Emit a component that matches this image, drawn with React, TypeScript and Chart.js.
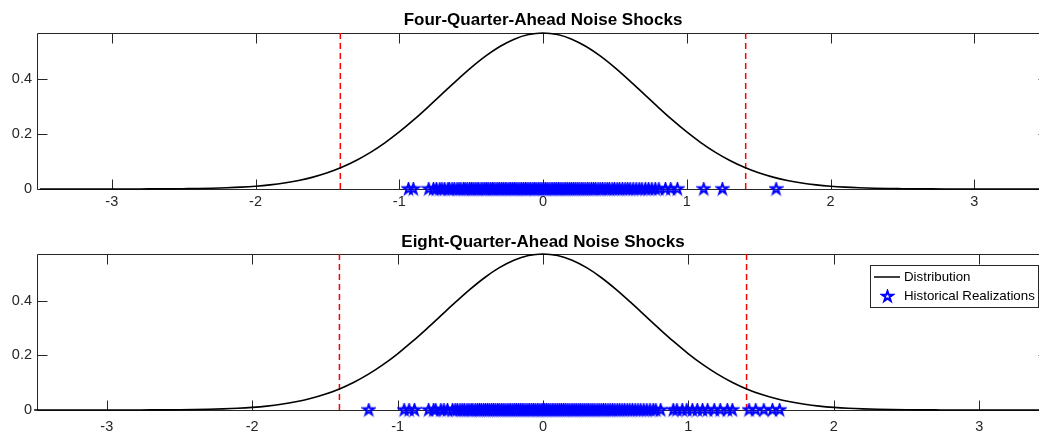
import React, { useEffect, useRef } from 'react';
import { Chart, registerables } from 'chart.js';

Chart.register(...registerables);

// ---------- data ----------
const curveX = [
  -3.5, -3.4, -3.3, -3.2, -3.1, -3.0, -2.9, -2.8, -2.7, -2.6, -2.5, -2.4, -2.3, -2.2, -2.1, -2.0,
  -1.9, -1.8, -1.7, -1.6, -1.5, -1.4, -1.3, -1.2, -1.1, -1.0, -0.9, -0.8, -0.7, -0.6, -0.5, -0.4,
  -0.3, -0.2, -0.1, 0.0, 0.1, 0.2, 0.3, 0.4, 0.5, 0.6, 0.7, 0.8, 0.9, 1.0, 1.1, 1.2, 1.3, 1.4, 1.5,
  1.6, 1.7, 1.8, 1.9, 2.0, 2.1, 2.2, 2.3, 2.4, 2.5, 2.6, 2.7, 2.8, 2.9, 3.0, 3.1, 3.2, 3.3, 3.4, 3.5,
];

const topDensity = [
  0, 0, 0, 0, 0, 0.0001, 0.0001, 0.0002, 0.0004, 0.0006, 0.0011, 0.0017, 0.0028, 0.0044, 0.0067, 0.0101,
  0.0150, 0.0217, 0.0309, 0.0431, 0.0588, 0.0788, 0.1034, 0.1329, 0.1675, 0.2069, 0.2505, 0.2973, 0.3457, 0.3940, 0.4401, 0.4818,
  0.5169, 0.5436, 0.5602, 0.5659, 0.5602, 0.5436, 0.5169, 0.4818, 0.4401, 0.3940, 0.3457, 0.2973, 0.2505, 0.2069, 0.1675, 0.1329, 0.1034, 0.0788, 0.0588,
  0.0431, 0.0309, 0.0217, 0.0150, 0.0101, 0.0067, 0.0044, 0.0028, 0.0017, 0.0011, 0.0006, 0.0004, 0.0002, 0.0001, 0.0001, 0, 0, 0, 0, 0,
];

const bottomDensity = [
  0, 0, 0, 0, 0, 0.0001, 0.0001, 0.0002, 0.0003, 0.0006, 0.0010, 0.0016, 0.0026, 0.0041, 0.0063, 0.0096,
  0.0143, 0.0209, 0.0299, 0.0418, 0.0574, 0.0771, 0.1016, 0.1311, 0.1658, 0.2054, 0.2494, 0.2966, 0.3457, 0.3947, 0.4416, 0.4841,
  0.5199, 0.5471, 0.5641, 0.5699, 0.5641, 0.5471, 0.5199, 0.4841, 0.4416, 0.3947, 0.3457, 0.2966, 0.2494, 0.2054, 0.1658, 0.1311, 0.1016, 0.0771, 0.0574,
  0.0418, 0.0299, 0.0209, 0.0143, 0.0096, 0.0063, 0.0041, 0.0026, 0.0016, 0.0010, 0.0006, 0.0003, 0.0002, 0.0001, 0.0001, 0, 0, 0, 0, 0,
];

const topRealizations = [
  -0.936, -0.902, -0.795, -0.762, -0.741, -0.718, -0.703, -0.684, -0.661, -0.652, -0.633, -0.617, -0.598,
  -0.584, -0.571, -0.553, -0.542, -0.527, -0.511, -0.498, -0.486, -0.472, -0.459, -0.447, -0.431, -0.418,
  -0.405, -0.393, -0.381, -0.366, -0.352, -0.341, -0.327, -0.314, -0.302, -0.288, -0.276, -0.263, -0.251,
  -0.237, -0.226, -0.212, -0.199, -0.187, -0.174, -0.161, -0.149, -0.136, -0.122, -0.111, -0.098, -0.086,
  -0.071, -0.059, -0.047, -0.033, -0.021, -0.008, 0.004, 0.017, 0.029, 0.042, 0.056, 0.068, 0.081, 0.093,
  0.107, 0.119, 0.132, 0.146, 0.158, 0.171, 0.185, 0.197, 0.211, 0.224, 0.238, 0.251, 0.266, 0.279, 0.293,
  0.308, 0.321, 0.337, 0.352, 0.366, 0.383, 0.398, 0.414, 0.431, 0.447, 0.462, 0.481, 0.497, 0.516, 0.533,
  0.552, 0.571, 0.589, 0.606, 0.627, 0.648, 0.669, 0.688, 0.712, 0.734, 0.757, 0.781, 0.806, 0.852, 0.889,
  0.935, 1.118, 1.248, 1.622,
];

const bottomRealizations = [
  -1.198, -0.955, -0.921, -0.884, -0.787, -0.752, -0.738, -0.702, -0.681, -0.657, -0.622, -0.604, -0.589,
  -0.571, -0.556, -0.541, -0.523, -0.509, -0.494, -0.482, -0.466, -0.451, -0.437, -0.424, -0.409, -0.396,
  -0.382, -0.369, -0.354, -0.341, -0.328, -0.313, -0.301, -0.287, -0.274, -0.261, -0.247, -0.234, -0.222,
  -0.208, -0.195, -0.183, -0.169, -0.156, -0.143, -0.131, -0.117, -0.104, -0.092, -0.078, -0.066, -0.053,
  -0.039, -0.027, -0.014, -0.002, 0.011, 0.024, 0.036, 0.049, 0.063, 0.075, 0.088, 0.101, 0.114, 0.127,
  0.141, 0.153, 0.166, 0.179, 0.193, 0.206, 0.219, 0.232, 0.246, 0.259, 0.273, 0.287, 0.301, 0.314, 0.329,
  0.343, 0.357, 0.372, 0.386, 0.401, 0.416, 0.431, 0.447, 0.462, 0.478, 0.494, 0.511, 0.527, 0.544, 0.561,
  0.579, 0.597, 0.615, 0.634, 0.653, 0.672, 0.693, 0.714, 0.736, 0.758, 0.776, 0.809, 0.896, 0.921, 0.958,
  0.989, 1.027, 1.061, 1.097, 1.132, 1.178, 1.219, 1.268, 1.302, 1.417, 1.463, 1.519, 1.578, 1.627,
];

const topBounds = [-1.41, 1.41];
const bottomBounds = [-1.4, 1.4];
const topXLimits = [-3.52, 3.52];
const bottomXLimits = [-3.48, 3.48];
const topYMax = 0.5659;
const bottomYMax = 0.5699;

const xTickValues = [-3, -2, -1, 0, 1, 2, 3];
const xTickLabels = ['-3', '-2', '-1', '0', '1', '2', '3'];
const yTickValues = [0, 0.2, 0.4];
const yTickLabels = ['0', '0.2', '0.4'];

const panelTitles = ['Four-Quarter-Ahead Noise Shocks', 'Eight-Quarter-Ahead Noise Shocks'];
const legendLabels = ['Distribution', 'Historical Realizations'];

// ---------- styling ----------
const FONT = '"Liberation Sans", Arial, Helvetica, sans-serif';
const AXIS_COLOR = '#262626';
const CANVAS_W = 1049;
const CANVAS_H = 216;

function makeStar(color: string, R: number, lw: number): HTMLCanvasElement {
  const size = Math.ceil(R * 2 + 4);
  const c = document.createElement('canvas');
  c.width = size;
  c.height = size;
  const g = c.getContext('2d')!;
  const cx = size / 2;
  const cy = size / 2;
  const r = R * 0.382;
  g.beginPath();
  for (let i = 0; i < 10; i++) {
    const ang = -Math.PI / 2 + (i * Math.PI) / 5;
    const rr = i % 2 === 0 ? R : r;
    const px = cx + rr * Math.cos(ang);
    const py = cy + rr * Math.sin(ang);
    if (i === 0) g.moveTo(px, py);
    else g.lineTo(px, py);
  }
  g.closePath();
  g.strokeStyle = color;
  g.lineWidth = lw;
  g.lineJoin = 'miter';
  g.stroke();
  return c;
}

const matlabAxesPlugin = {
  id: 'matlabAxes',
  beforeDatasetsDraw(chart: any) {
    const { ctx, chartArea: a, scales } = chart;
    const x = scales.x;
    const y = scales.y;
    ctx.save();
    ctx.strokeStyle = AXIS_COLOR;
    ctx.lineWidth = 1;
    ctx.beginPath();
    const L = Math.round(a.left) + 0.5;
    const R = Math.round(a.right) - 0.5;
    const T = Math.round(a.top) + 0.5;
    const B = Math.round(a.bottom) + 0.5;
    ctx.moveTo(L, T);
    ctx.lineTo(R, T);
    ctx.lineTo(R, B);
    ctx.lineTo(L, B);
    ctx.closePath();
    for (const v of xTickValues) {
      const px = Math.round(x.getPixelForValue(v)) + 0.5;
      ctx.moveTo(px, B);
      ctx.lineTo(px, B - 10);
      ctx.moveTo(px, T);
      ctx.lineTo(px, T + 10);
    }
    for (const v of yTickValues) {
      const py = Math.round(y.getPixelForValue(v)) + 0.5;
      ctx.moveTo(L, py);
      ctx.lineTo(L + 10, py);
      ctx.moveTo(R, py);
      ctx.lineTo(R - 10, py);
    }
    ctx.stroke();
    ctx.restore();
  },
  afterDraw(chart: any, _args: any, opts: any) {
    const { ctx, chartArea: a } = chart;
    ctx.save();
    ctx.fillStyle = '#000';
    ctx.font = `bold 17px ${FONT}`;
    ctx.textAlign = 'center';
    ctx.textBaseline = 'middle';
    ctx.fillText(opts.title, (a.left + a.right) / 2, opts.titleY);
    if (opts.legend) {
      const lx = 870.5;
      const ly = 49.5;
      const lw = 168;
      const lh = 42;
      ctx.fillStyle = '#fff';
      ctx.fillRect(lx, ly, lw, lh);
      ctx.strokeStyle = AXIS_COLOR;
      ctx.lineWidth = 1;
      ctx.strokeRect(lx, ly, lw, lh);
      ctx.strokeStyle = '#000';
      ctx.lineWidth = 1.5;
      ctx.beginPath();
      ctx.moveTo(874, 61);
      ctx.lineTo(900, 61);
      ctx.stroke();
      const star = opts.starImage as HTMLCanvasElement;
      ctx.drawImage(star, Math.round(887 - star.width / 2), Math.round(80 - star.height / 2));
      ctx.fillStyle = '#000';
      ctx.font = `13.3px ${FONT}`;
      ctx.textAlign = 'left';
      ctx.textBaseline = 'middle';
      ctx.fillText(opts.labels[0], 904, 61);
      ctx.fillText(opts.labels[1], 904, 80);
    }
    ctx.restore();
  },
};

type PanelProps = {
  top: number;
  density: number[];
  realizations: number[];
  bounds: number[];
  xLimits: number[];
  yMax: number;
  title: string;
  titleY: number;
  padTop: number;
  xAxisHeight: number;
  labelPad: number;
  legend: boolean;
};

function Panel(p: PanelProps) {
  const ref = useRef<HTMLCanvasElement | null>(null);
  useEffect(() => {
    if (!ref.current) return;
    const starImg = makeStar('#0000ff', 5.5, 2);
    const datasets: any[] = [
      {
        label: legendLabels[1],
        data: p.realizations.map((v) => ({ x: v, y: 0 })),
        pointStyle: starImg,
        pointRadius: 5,
        showLine: false,
        clip: false,
      },
      {
        label: legendLabels[0],
        data: curveX.map((x, i) => ({ x, y: p.density[i] })),
        showLine: true,
        borderColor: '#000',
        borderWidth: 1.6,
        pointRadius: 0,
        cubicInterpolationMode: 'monotone',
        clip: false,
      },
      ...p.bounds.map((b) => ({
        label: 'bound',
        data: [
          { x: b, y: 0 },
          { x: b, y: p.yMax },
        ],
        showLine: true,
        borderColor: '#ff0000',
        borderWidth: 1.5,
        borderDash: [6, 4],
        pointRadius: 0,
        clip: false,
      })),
    ];
    const chart = new Chart(ref.current, {
      type: 'scatter',
      data: { datasets },
      options: {
        animation: false,
        responsive: false,
        devicePixelRatio: 1,
        events: [],
        layout: { autoPadding: false, padding: { top: p.padTop, left: 0, right: 0, bottom: 0 } },
        plugins: {
          legend: { display: false },
          tooltip: { enabled: false },
          matlabAxes: {
            title: p.title,
            titleY: p.titleY,
            legend: p.legend,
            labels: legendLabels,
            starImage: starImg,
          },
        } as any,
        scales: {
          x: {
            type: 'linear',
            min: p.xLimits[0],
            max: p.xLimits[1],
            grid: { display: false, drawTicks: false },
            border: { display: false },
            afterBuildTicks: (s: any) => {
              s.ticks = xTickValues.map((v) => ({ value: v }));
            },
            afterFit: (s: any) => {
              s.height = p.xAxisHeight;
              s.paddingLeft = 0;
              s.paddingRight = 0;
            },
            ticks: {
              autoSkip: false,
              maxRotation: 0,
              padding: p.labelPad,
              color: AXIS_COLOR,
              font: { family: FONT, size: 14.5 },
              callback: (_v: any, i: number) => xTickLabels[i],
            },
          },
          y: {
            type: 'linear',
            min: 0,
            max: p.yMax,
            grid: { display: false, drawTicks: false },
            border: { display: false },
            afterBuildTicks: (s: any) => {
              s.ticks = yTickValues.map((v) => ({ value: v }));
            },
            afterFit: (s: any) => {
              s.width = 37;
            },
            ticks: {
              padding: 5,
              color: AXIS_COLOR,
              font: { family: FONT, size: 14.5 },
              callback: (_v: any, i: number) => yTickLabels[i],
            },
          },
        },
      },
      plugins: [matlabAxesPlugin],
    } as any);
    return () => chart.destroy();
  }, []);
  return (
    <canvas
      ref={ref}
      width={CANVAS_W}
      height={CANVAS_H}
      style={{ position: 'absolute', left: 0, top: p.top, width: CANVAS_W, height: CANVAS_H }}
    />
  );
}

export default function App() {
  return (
    <div
      style={{
        position: 'absolute',
        left: 0,
        top: 0,
        width: 1039,
        height: 432,
        overflow: 'hidden',
        background: '#fff',
      }}
    >
      <Panel
        top={0}
        density={topDensity}
        realizations={topRealizations}
        bounds={topBounds}
        xLimits={topXLimits}
        yMax={topYMax}
        title={panelTitles[0]}
        titleY={20}
        padTop={33}
        xAxisHeight={27}
        labelPad={4}
        legend={false}
      />
      <Panel
        top={216}
        density={bottomDensity}
        realizations={bottomRealizations}
        bounds={bottomBounds}
        xLimits={bottomXLimits}
        yMax={bottomYMax}
        title={panelTitles[1]}
        titleY={26}
        padTop={38}
        xAxisHeight={22}
        labelPad={8}
        legend={true}
      />
    </div>
  );
}
